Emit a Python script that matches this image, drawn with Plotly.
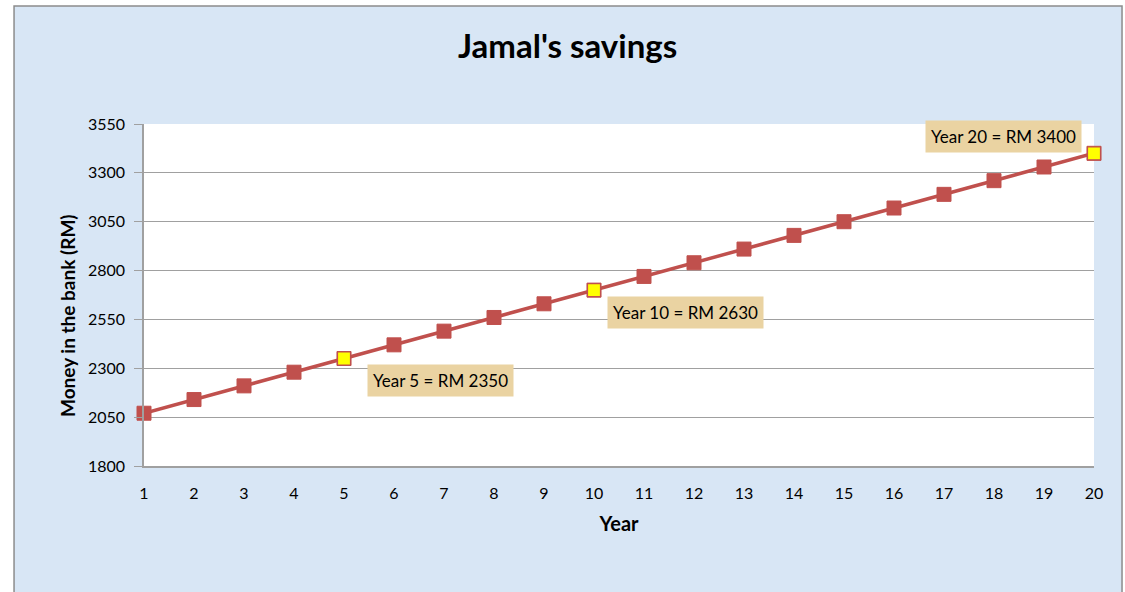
import plotly.graph_objects as go

years = list(range(1, 21))
savings = [2070, 2140, 2210, 2280, 2350, 2420, 2490, 2560, 2630, 2700,
           2770, 2840, 2910, 2980, 3050, 3120, 3190, 3260, 3330, 3400]
highlight_years = [5, 10, 20]
highlight_values = [2350, 2700, 3400]
label_texts = ["Year 5 = RM 2350", "Year 10 = RM 2630", "Year 20 = RM 3400"]
y_ticks = [1800, 2050, 2300, 2550, 2800, 3050, 3300, 3550]

FONT = "Lato"
RED = "#c0504d"

fig = go.Figure()
fig.add_trace(go.Scatter(
    x=years, y=savings, mode="lines+markers",
    line=dict(color=RED, width=3.5),
    marker=dict(symbol="square", size=14, color=RED, line=dict(color=RED, width=1)),
    cliponaxis=False, showlegend=False, hoverinfo="x+y",
))
fig.add_trace(go.Scatter(
    x=highlight_years, y=highlight_values, mode="markers",
    marker=dict(symbol="square", size=13, color="#ffff00", line=dict(color=RED, width=1.2)),
    cliponaxis=False, showlegend=False, hoverinfo="x+y",
))

# chart background and plot area
fig.add_shape(type="rect", xref="paper", yref="paper",
              x0=-0.1368, x1=1.0295, y0=-0.45, y1=1.345,
              fillcolor="#d8e6f5", line=dict(color="#8c8c8c", width=1.5), layer="below")
fig.add_shape(type="rect", xref="paper", yref="paper",
              x0=0, x1=1, y0=0, y1=1,
              fillcolor="white", line=dict(width=0), layer="below")

label_pos = [(6.92, 2235), (11.82, 2588), (18.18, 3488)]
for (lx, ly), txt in zip(label_pos, label_texts):
    fig.add_annotation(x=lx, y=ly, xref="x", yref="y", text=txt, showarrow=False,
                       font=dict(family=FONT, size=17, color="black"),
                       bgcolor="#ead3a2", borderpad=5)

fig.add_annotation(x=0.4463, y=1.231, xref="paper", yref="paper",
                   text="<b>Jamal's savings</b>", showarrow=False,
                   font=dict(family=FONT, size=33, color="black"),
                   xanchor="center", yanchor="middle")

fig.add_annotation(x=-0.08, y=0.4386, xref="paper", yref="paper",
                   text="<b>Money in the bank (RM)</b>", showarrow=False, textangle=-90,
                   font=dict(family=FONT, size=19, color="black"),
                   xanchor="center", yanchor="middle")

fig.update_layout(
    width=1125, height=592,
    margin=dict(l=144, r=31, t=124, b=126),
    paper_bgcolor="white", plot_bgcolor="rgba(0,0,0,0)",
    font=dict(family=FONT, size=16, color="black"),
    showlegend=False,
)
fig.update_xaxes(
    range=[1, 20], tickmode="array", tickvals=years, ticktext=[str(y) for y in years],
    showgrid=False, zeroline=False, showline=True, linecolor="#a0a0a0", linewidth=1.5,
    ticks="outside", ticklen=12, tickcolor="rgba(0,0,0,0)",
    title=dict(text="<b>Year</b>", font=dict(family=FONT, size=20), standoff=16),
    tickfont=dict(family=FONT, size=16),
)
fig.update_yaxes(
    range=[1800, 3550], tickmode="array", tickvals=y_ticks,
    showgrid=True, gridcolor="#a0a0a0", gridwidth=1.2, zeroline=False,
    showline=True, linecolor="#a0a0a0", linewidth=1.5,
    ticks="outside", ticklen=8, tickcolor="#a0a0a0", ticklabelstandoff=6,
    tickfont=dict(family=FONT, size=16),
)

fig.write_html("out.html", config={"displayModeBar": False},
               post_script="document.body.style.margin='0';document.body.style.overflow='hidden';")
